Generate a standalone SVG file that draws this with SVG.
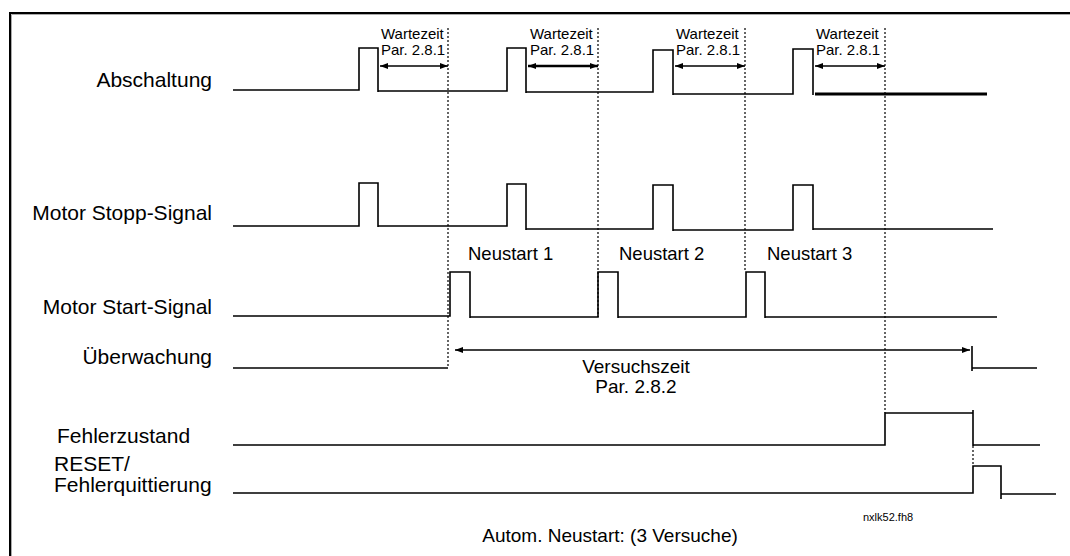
<svg xmlns="http://www.w3.org/2000/svg" width="1070" height="556" viewBox="0 0 1070 556">
<style>
text{font-family:"Liberation Sans",Arial,sans-serif;fill:#000}
.lbl{font-size:21px}
.lblr{font-size:21px;text-anchor:end}
.sm{font-size:15px}
.md{font-size:18.5px}
.sig{fill:none;stroke:#000;stroke-width:1.6;stroke-linejoin:miter}
.dot{fill:none;stroke:#000;stroke-width:1.2;stroke-dasharray:2 2}
.arr{fill:none;stroke:#000;stroke-width:1.5;marker-start:url(#ah);marker-end:url(#ah)}
</style>
<defs>
<marker id="ah" markerUnits="userSpaceOnUse" markerWidth="8" markerHeight="6" refX="8" refY="3" orient="auto-start-reverse">
<path d="M0,0 L8,3 L0,6 z" fill="#000"/>
</marker>
</defs>
<rect width="1070" height="556" fill="#fff"/>
<g id="frame">
<path d="M11.5,556 V14.5 H1070" fill="none" stroke="#aaa" stroke-width="1"/>
<path d="M10,556 V13 H1070" fill="none" stroke="#000" stroke-width="2"/>
</g>
<g id="abschaltung">
<text class="lblr" x="212" y="87">Abschaltung</text>
<path class="sig" d="M233,90 H359 V48 H378 V92 M378,91 H507 V48 H526 V93 M526,92 H653 V50 H673 V95 M673,94 H793 V49 H813 V95"/>
<path d="M815,94 H987" stroke="#000" stroke-width="3"/>
</g>
<g id="wartezeit">
<text class="sm" x="381" y="39">Wartezeit</text><text class="sm" x="381" y="55">Par. 2.8.1</text>
<text class="sm" x="530" y="39">Wartezeit</text><text class="sm" x="530" y="55">Par. 2.8.1</text>
<text class="sm" x="676" y="39">Wartezeit</text><text class="sm" x="676" y="55">Par. 2.8.1</text>
<text class="sm" x="816" y="39">Wartezeit</text><text class="sm" x="816" y="55">Par. 2.8.1</text>
</g>
<g id="stopp">
<text class="lblr" x="212" y="220">Motor Stopp-Signal</text>
<path class="sig" d="M233,226 H359 V183 H378 V227 M378,226 H507 V184 H526 V230 M526,229 H653 V185 H673 V231 M673,230 H793 V185 H813 V230 M813,229 H993"/>
</g>
<g id="start">
<text class="md" x="468" y="260">Neustart 1</text>
<text class="md" x="619" y="260">Neustart 2</text>
<text class="md" x="767" y="260">Neustart 3</text>
<text class="lblr" x="212" y="314">Motor Start-Signal</text>
<path class="sig" d="M233,316 H450 V272 H470 V318 M470,317 H598 V272 H618 V318 M618,317 H746 V272 H765 V318 M765,317 H997"/>
</g>
<g id="ueberwachung">
<text class="lblr" x="212" y="364">Überwachung</text>
<path class="sig" d="M233,368 H448"/>
<path class="sig" d="M972,346 V371 M972,368 H1037"/>
<text class="md" x="636" y="373" text-anchor="middle" style="font-size:19px">Versuchszeit</text>
<text class="md" x="636" y="393" text-anchor="middle" style="font-size:19px">Par. 2.8.2</text>
</g>
<g id="fehlerzustand">
<text class="lbl" x="57" y="443">Fehlerzustand</text>
<path class="sig" d="M233,445 H885 V413 H973 M973,410 V446 M973,445 H1040"/>
</g>
<g id="reset">
<text class="lbl" x="54" y="471">RESET/</text>
<text class="lbl" x="54" y="492">Fehlerquittierung</text>
<path class="sig" d="M233,493 H973 V466 H1001 V499 M1001,494 H1056"/>
</g>
<g id="connectors">
<path class="dot" d="M448,28 V368"/>
<path class="dot" d="M598,28 V317"/>
<path class="dot" d="M745,28 V272"/>
<path class="dot" d="M885,28 V413"/>
<path class="dot" d="M973,446 V466"/>
<path class="arr" d="M380,66 H448"/>
<path class="arr" d="M528,66 H598" style="stroke-width:2.5"/>
<path class="arr" d="M675,66 H745"/>
<path class="arr" d="M815,66 H885"/>
<path class="arr" d="M455,350 H970"/>
</g>
<g id="footer">
<text x="863" y="521" style="font-size:11px">nxlk52.fh8</text>
<text x="610" y="542" text-anchor="middle" style="font-size:19px">Autom. Neustart: (3 Versuche)</text>
</g>
</svg>
